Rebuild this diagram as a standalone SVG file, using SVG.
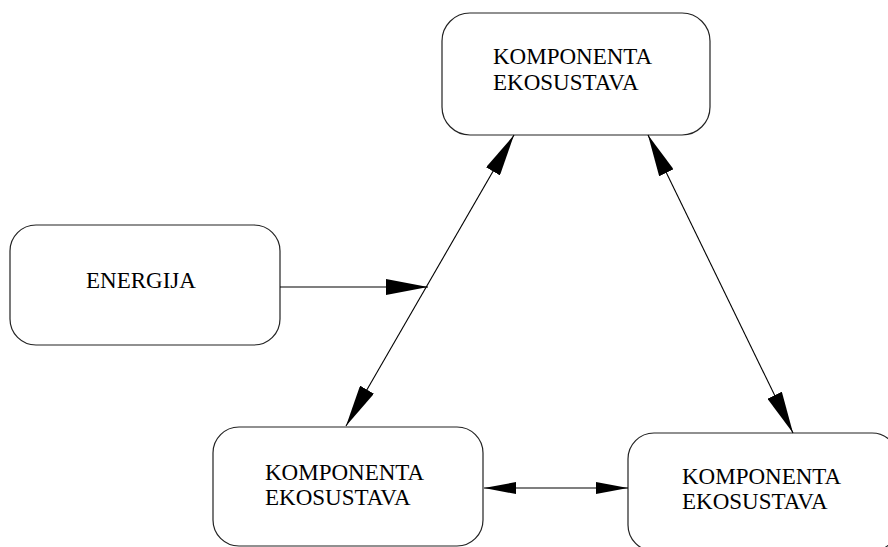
<svg xmlns="http://www.w3.org/2000/svg" width="888" height="547" viewBox="0 0 888 547">
<defs>
<style>
.box{fill:#fff;stroke:#222;stroke-width:1.2}
.lbl{font-family:'Liberation Serif','Times New Roman',Times,serif;font-size:23px;fill:#000}
.con{stroke:#000;stroke-width:1.1;fill:none}
</style>
<marker id="big" viewBox="0 0 42 16" refX="42" refY="8" markerWidth="42" markerHeight="16" markerUnits="userSpaceOnUse" orient="auto-start-reverse">
<path d="M0,0 L42,8 L0,16 z" fill="#000"/>
</marker>
<marker id="small" viewBox="0 0 32 12" refX="32" refY="6" markerWidth="32" markerHeight="12" markerUnits="userSpaceOnUse" orient="auto-start-reverse">
<path d="M0,0 L32,6 L0,12 z" fill="#000"/>
</marker>
</defs>
<rect width="888" height="547" fill="#fff"/>
<g id="top">
<rect class="box" x="442" y="13" width="268" height="122" rx="28" ry="28"/>
<text class="lbl" font-family="Liberation Serif, serif" x="493" y="64">KOMPONENTA</text>
<text class="lbl" font-family="Liberation Serif, serif" x="493" y="90">EKOSUSTAVA</text>
</g>
<g id="energija">
<rect class="box" x="10" y="225" width="270" height="120" rx="26" ry="26"/>
<text class="lbl" font-family="Liberation Serif, serif" x="86" y="288">ENERGIJA</text>
</g>
<g id="bottomleft">
<rect class="box" x="213" y="427" width="270" height="119" rx="26" ry="26"/>
<text class="lbl" font-family="Liberation Serif, serif" x="265" y="480">KOMPONENTA</text>
<text class="lbl" font-family="Liberation Serif, serif" x="265" y="505">EKOSUSTAVA</text>
</g>
<g id="bottomright">
<rect class="box" x="628" y="433" width="270" height="118" rx="26" ry="26"/>
<text class="lbl" font-family="Liberation Serif, serif" x="682" y="484">KOMPONENTA</text>
<text class="lbl" font-family="Liberation Serif, serif" x="682" y="509">EKOSUSTAVA</text>
</g>
<g id="connectors">
<line class="con" x1="280" y1="287" x2="428" y2="287" marker-end="url(#big)"/>
<line class="con" x1="346" y1="426" x2="514" y2="135" marker-start="url(#big)" marker-end="url(#big)"/>
<line class="con" x1="648" y1="135" x2="793" y2="433" marker-start="url(#big)" marker-end="url(#big)"/>
<line class="con" x1="484" y1="488" x2="628" y2="488" marker-start="url(#small)" marker-end="url(#small)"/>
</g>
</svg>
